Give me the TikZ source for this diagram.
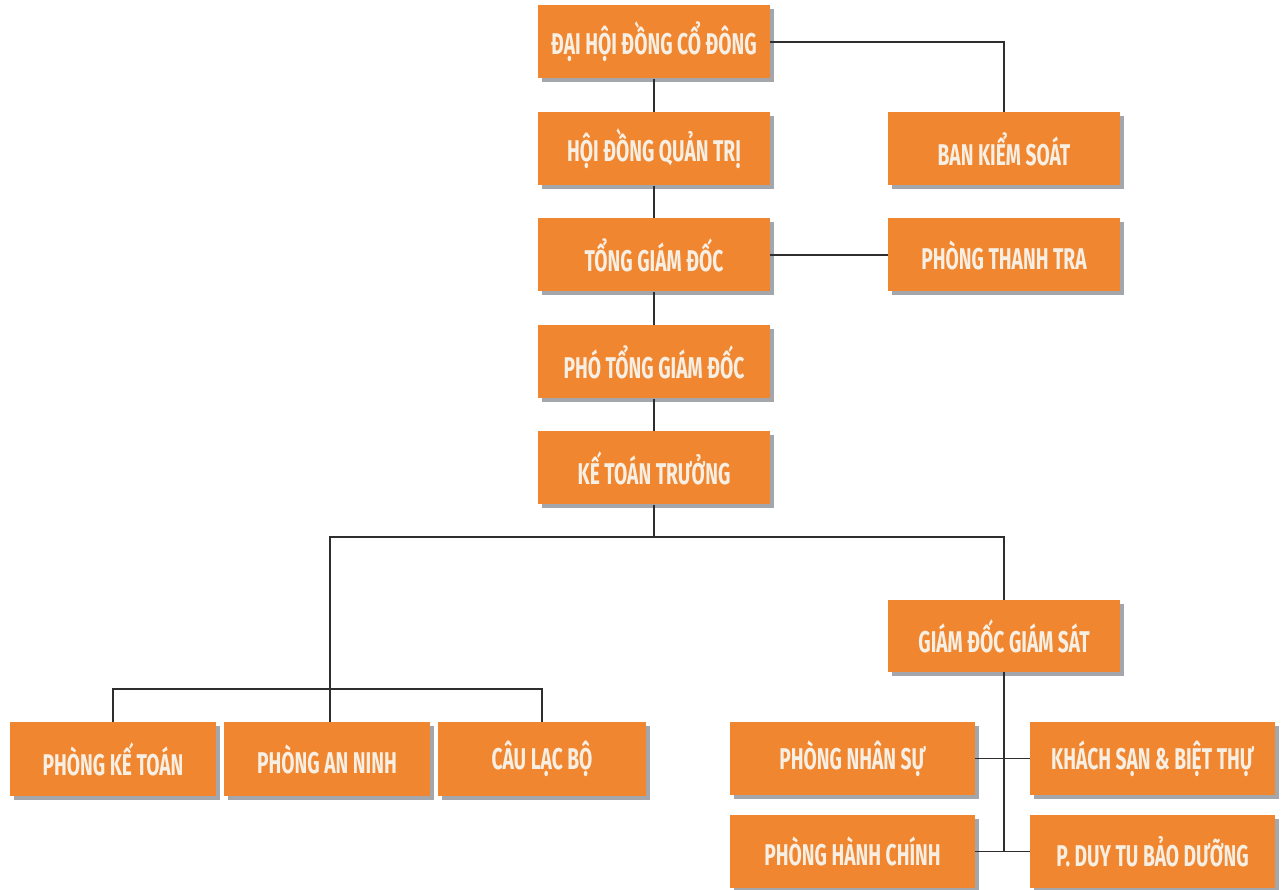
\documentclass[tikz,border=0pt]{standalone}
\usepackage{fontspec}
\newfontfamily\cond[FakeStretch=0.64]{Fira Sans}
\usetikzlibrary{shadows}
\definecolor{orng}{HTML}{F08730}
\definecolor{shd}{HTML}{A3A6AB}
\definecolor{txt}{HTML}{F7EFE4}
\definecolor{ln}{HTML}{2E2E2E}
\tikzset{
  box/.style={fill=orng, text=txt, inner sep=0pt, minimum height=73pt,
    font=\cond\bfseries\fontsize{30}{32}\selectfont,
    general shadow={fill=shd, shadow xshift=4pt, shadow yshift=-4pt}},
  conn/.style={draw=ln, line width=1.5pt},
}
\begin{document}
\begin{tikzpicture}[x=1pt,y=-1pt]
\useasboundingbox (0,0) rectangle (1286,890);
\node[box, minimum width=232pt] (dh) at (654,42) {ĐẠI HỘI ĐỒNG CỔ ĐÔNG};
\node[box, minimum width=232pt] (hq) at (654,149) {HỘI ĐỒNG QUẢN TRỊ};
\node[box, minimum width=232pt] (bk) at (1004,149) {BAN KIỂM SOÁT};
\node[box, minimum width=232pt] (tg) at (654,255) {TỔNG GIÁM ĐỐC};
\node[box, minimum width=232pt] (tt) at (1004,255) {PHÒNG THANH TRA};
\node[box, minimum width=232pt] (pt) at (654,362) {PHÓ TỔNG GIÁM ĐỐC};
\node[box, minimum width=232pt] (kt) at (654,468) {KẾ TOÁN TRƯỞNG};
\node[box, minimum width=232pt, minimum height=72pt] (gs) at (1004,636) {GIÁM ĐỐC GIÁM SÁT};
\node[box, minimum width=206pt, minimum height=74pt] (pk) at (113,759) {PHÒNG KẾ TOÁN};
\node[box, minimum width=206pt, minimum height=74pt] (an) at (327,759) {PHÒNG AN NINH};
\node[box, minimum width=208pt, minimum height=74pt] (cl) at (542,759) {CÂU LẠC BỘ};
\node[box, minimum width=245pt] (ns) at (852.5,758.5) {PHÒNG NHÂN SỰ};
\node[box, minimum width=245pt] (ks) at (1152.5,758.5) {KHÁCH SẠN \& BIỆT THỰ};
\node[box, minimum width=245pt] (hc) at (852.5,851.5) {PHÒNG HÀNH CHÍNH};
\node[box, minimum width=245pt] (dt) at (1152.5,851.5) {P. DUY TU BẢO DƯỠNG};
\coordinate (j1) at (654,537);
\coordinate (j2) at (330,689);
\coordinate (j4) at (1004,851.5);
\draw[conn] (dh.east) -| (bk.north);
\draw[conn] (dh.south) -- (hq.north);
\draw[conn] (hq.south) -- (tg.north);
\draw[conn] (tg.east) -- (tt.west);
\draw[conn] (tg.south) -- (pt.north);
\draw[conn] (pt.south) -- (kt.north);
\draw[conn] (kt.south) -- (j1);
\draw[conn] (j1) -| (gs.north);
\draw[conn] (j1) -| (an.north -| j2);
\draw[conn] (j2) -| (pk.north);
\draw[conn] (j2) -| (cl.north);
\draw[conn] (gs.south) -- (j4);
\draw[conn] (ns.east) -- (ks.west);
\draw[conn] (hc.east) -- (dt.west);
\end{tikzpicture}
\end{document}
